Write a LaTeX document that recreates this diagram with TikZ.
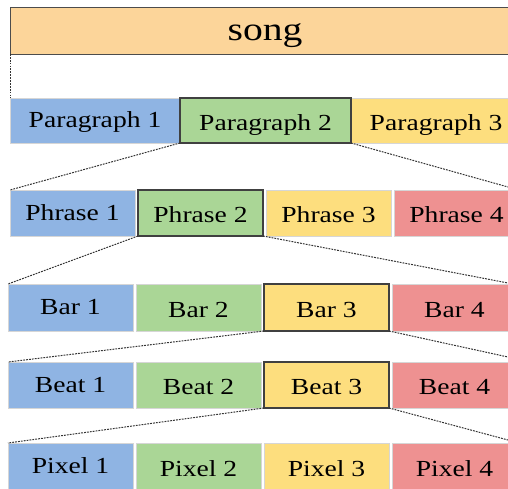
\documentclass[tikz,border=0pt]{standalone}
\usepackage{fontspec}
\setmainfont{Liberation Serif}[FakeStretch=1.2]
\definecolor{cblue}{RGB}{143,180,227}
\definecolor{cgreen}{RGB}{170,214,150}
\definecolor{cyellow}{RGB}{253,222,126}
\definecolor{cred}{RGB}{238,145,145}
\definecolor{csong}{RGB}{252,213,154}
\begin{document}
\begin{tikzpicture}[x=1pt,y=-1pt,
 cell/.style={draw=black!16, line width=0.8pt, inner sep=0pt, outer sep=0pt, anchor=north west, text height=19.5pt, text depth=0pt, font=\fontsize{23}{25}\selectfont},
 hl/.style={draw=black!75, line width=1.2pt},
 link/.style={draw=black!80, line width=1pt, dash pattern=on 1.8pt off 1.1pt}]
\useasboundingbox (0,0) rectangle (508,489);
\clip (0,0) rectangle (508,489);
% song
\node[cell, draw=black!70, fill=csong, minimum width=510, minimum height=47, text height=21pt, font=\fontsize{33}{35}\selectfont] (song) at (10,7) {song};
% paragraphs
\node[cell, fill=cblue, minimum width=170, minimum height=45] (pa1) at (10,98) {\raisebox{2.5pt}{Paragraph 1}};
\node[cell, fill=cyellow, minimum width=170, minimum height=45] (pa3) at (351,98) {Paragraph 3};
\node[cell, hl, fill=cgreen, minimum width=171, minimum height=45] (pa2) at (180,98) {Paragraph 2};
% phrases
\node[cell, fill=cblue, minimum width=125, minimum height=46] (ph1) at (10,190) {\raisebox{2.5pt}{Phrase 1}};
\node[cell, fill=cyellow, minimum width=125, minimum height=46] (ph3) at (266,190) {Phrase 3};
\node[cell, fill=cred, minimum width=125, minimum height=46] (ph4) at (394,190) {Phrase 4};
\node[cell, hl, fill=cgreen, minimum width=125, minimum height=46] (ph2) at (138,190) {Phrase 2};
% bars
\node[cell, fill=cblue, minimum width=125, minimum height=47] (b1) at (8,284) {\raisebox{2.5pt}{Bar 1}};
\node[cell, fill=cgreen, minimum width=125, minimum height=47] (b2) at (136,284) {Bar 2};
\node[cell, fill=cred, minimum width=125, minimum height=47] (b4) at (392,284) {Bar 4};
\node[cell, hl, fill=cyellow, minimum width=125, minimum height=47] (b3) at (264,284) {Bar 3};
% beats
\node[cell, fill=cblue, minimum width=125, minimum height=46] (be1) at (8,362) {\raisebox{2.5pt}{Beat 1}};
\node[cell, fill=cgreen, minimum width=125, minimum height=46] (be2) at (136,362) {Beat 2};
\node[cell, fill=cred, minimum width=125, minimum height=46] (be4) at (392,362) {Beat 4};
\node[cell, hl, fill=cyellow, minimum width=125, minimum height=46] (be3) at (264,362) {Beat 3};
% pixels
\node[cell, fill=cblue, minimum width=125, minimum height=48] (px1) at (8,443) {\raisebox{3pt}{Pixel 1}};
\node[cell, fill=cgreen, minimum width=125, minimum height=48] (px2) at (136,443) {Pixel 2};
\node[cell, fill=cyellow, minimum width=125, minimum height=48] (px3) at (264,443) {Pixel 3};
\node[cell, fill=cred, minimum width=125, minimum height=48] (px4) at (392,443) {Pixel 4};
% right-edge ends
\coordinate (r1) at (508,187);
\coordinate (r2) at (508,283);
\coordinate (r3) at (508,357);
\coordinate (r4) at (508,440);
% links
\draw[link] (song.south west) -- (pa1.north west);
\draw[link] (pa2.south west) -- (ph1.north west);
\draw[link] (pa2.south east) -- (r1);
\draw[link] (ph2.south west) -- (b1.north west);
\draw[link] (ph2.south east) -- (r2);
\draw[link] (b3.south west) -- (be1.north west);
\draw[link] (b3.south east) -- (r3);
\draw[link] (be3.south west) -- (px1.north west);
\draw[link] (be3.south east) -- (r4);
\end{tikzpicture}
\end{document}
